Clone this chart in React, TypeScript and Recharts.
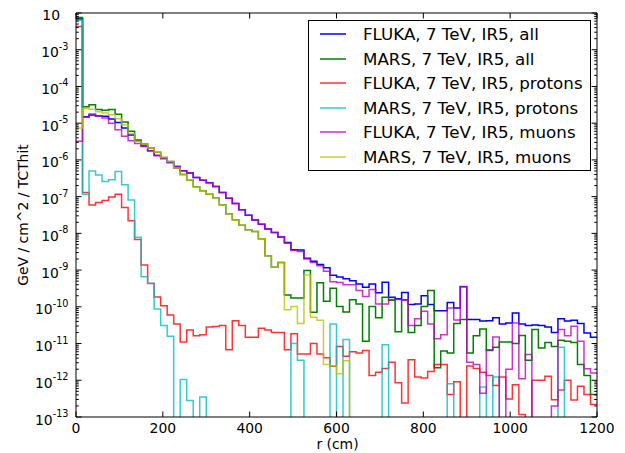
import React from 'react';
import { LineChart, Line, XAxis, YAxis } from 'recharts';

// histogram binning (cm)
const BIN_WIDTH = 15;
const N_BINS = 80;

const X_TICKS = [0, 200, 400, 600, 800, 1000, 1200];
const Y_DECADES = [-13, -12, -11, -10, -9, -8, -7, -6, -5, -4, -3, -2];

// GeV / cm^2 / TCThit per 15 cm bin, 0 = empty bin
const FLUKA_ALL = [
  6.9e-3, 1.5e-5, 1.66e-5, 1.58e-5, 1.55e-5, 1.29e-5, 1.05e-5, 7.4e-6, 4.8e-6, 3.3e-6,
  2.4e-6, 1.78e-6, 1.32e-6, 1.1e-6, 8.5e-7, 6.6e-7, 5.1e-7, 4.4e-7, 3.3e-7, 2.8e-7,
  2.4e-7, 1.9e-7, 1.29e-7, 9.1e-8, 6.5e-8, 4.4e-8, 3.1e-8, 2.3e-8, 1.78e-8, 1.32e-8,
  1.05e-8, 7.9e-9, 5.6e-9, 3.6e-9, 3.5e-9, 2.1e-9, 1.74e-9, 1.41e-9, 1.15e-9, 7.2e-10,
  6.5e-10, 5.8e-10, 5.1e-10, 4.2e-10, 3.4e-10, 4.2e-10, 2.4e-10, 4.7e-10, 1.82e-10, 1.66e-10,
  2.45e-10, 1.15e-10, 1.2e-10, 2.0e-10, 1.15e-10, 7.8e-11, 7.8e-11, 1.32e-10, 9.3e-11, 3.5e-10,
  4.5e-11, 4.5e-11, 4.1e-11, 4.2e-11, 5.0e-11, 3.4e-11, 3.6e-11, 6.8e-11, 3.4e-11, 3.1e-11,
  3.2e-11, 3.1e-11, 2.8e-11, 2.0e-11, 4.7e-11, 4.1e-11, 4.3e-11, 3.5e-11, 1.95e-11, 1.48e-11,
];

const MARS_ALL = [
  7.6e-3, 2.8e-5, 3.2e-5, 2.35e-5, 2.25e-5, 2.35e-5, 1.74e-5, 1.07e-5, 6.0e-6, 3.5e-6,
  2.7e-6, 2.1e-6, 1.62e-6, 1.17e-6, 9.1e-7, 6.0e-7, 4.0e-7, 2.8e-7, 1.86e-7, 1.45e-7,
  1.17e-7, 9.3e-8, 6.0e-8, 3.4e-8, 2.35e-8, 1.66e-8, 1.26e-8, 1.12e-8, 7.1e-9, 2.45e-9,
  1.2e-9, 1.62e-9, 2.1e-10, 1.74e-10, 1.74e-10, 9.8e-10, 7.1e-11, 4.5e-10, 1.41e-10, 3.2e-10,
  1.02e-10, 7.2e-11, 1.55e-10, 1.2e-10, 1.15e-11, 1.02e-10, 5.0e-11, 1.82e-10, 1.51e-10, 2.1e-11,
  1.55e-10, 2.0e-11, 3.1e-11, 1.02e-10, 2.8e-10, 2.2e-12, 6.3e-12, 5.5e-12, 3.5e-11, 4.5e-11,
  5.5e-12, 1.62e-11, 2.5e-11, 6.5e-12, 7.9e-12, 1.1e-11, 1.1e-11, 1.0e-11, 1.66e-11, 3.5e-12,
  2.4e-11, 7.6e-12, 1.07e-11, 8.3e-12, 1.23e-11, 1.15e-11, 1.07e-11, 2.7e-12, 1.35e-12, 4.1e-13,
];

const FLUKA_PROTONS = [
  4.3e-3, 1.29e-7, 5.9e-8, 6.9e-8, 7.9e-8, 9.8e-8, 1.17e-7, 5.1e-8, 2.2e-8, 6.8e-9,
  1.38e-9, 4.3e-10, 1.86e-10, 1.07e-10, 6.0e-11, 3.4e-11, 1.1e-11, 2.35e-11, 1.62e-11, 1.74e-11,
  2.8e-11, 2.9e-11, 3.1e-11, 6.8e-12, 4.2e-11, 3.1e-11, 1.48e-11, 1.48e-11, 2.6e-11, 2.35e-11,
  2.0e-11, 2.0e-11, 6.8e-12, 1.86e-11, 5.2e-12, 5.2e-12, 1.0e-11, 5.2e-12, 4.1e-12, 2.4e-12,
  8.3e-12, 4.5e-12, 6.0e-12, 5.5e-12, 6.5e-12, 1.35e-12, 1.66e-12, 2.1e-12, 3.1e-12, 8.5e-13,
  2.4e-13, 3.6e-12, 1.23e-12, 1.15e-12, 1.74e-12, 2.7e-12, 2.7e-12, 4.1e-13, 9.1e-13, 0,
  2.45e-12, 2.1e-12, 1.66e-12, 1.35e-12, 7.2e-13, 1.23e-12, 3.1e-13, 7.6e-13, 1.17e-13, 0,
  1.0e-12, 1.0e-12, 1.29e-12, 2.95e-13, 5.4e-13, 1.0e-12, 2.9e-13, 6.9e-13, 4.1e-13, 2.2e-13,
];

const MARS_PROTONS = [
  6.3e-3, 1.17e-7, 5.0e-7, 3.9e-7, 2.6e-7, 2.9e-7, 4.8e-7, 2.1e-7, 8.1e-8, 7.8e-9,
  6.6e-10, 4.4e-10, 8.7e-11, 3.1e-11, 1.58e-11, 0, 1.05e-12, 2.8e-13, 0, 3.5e-13,
  0, 0, 0, 0, 0, 0, 0, 0, 0, 0,
  0, 0, 0, 1.0e-11, 3.5e-12, 0, 0, 0, 0, 3.4e-11,
  0, 1.29e-11, 0, 0, 0, 0, 0, 9.3e-12, 0, 0,
  0, 0, 0, 0, 0, 0, 0, 8.1e-13, 0, 0,
  0, 0, 6.6e-13, 0, 1.23e-12, 0, 0, 0, 0, 0,
  0, 0, 0, 0, 7.9e-12, 0, 0, 0, 0, 0,
];

const FLUKA_MUONS = [
  3.2e-6, 1.45e-5, 1.78e-5, 1.58e-5, 1.38e-5, 1.0e-5, 6.6e-6, 4.4e-6, 3.3e-6, 2.8e-6,
  2.3e-6, 1.78e-6, 1.32e-6, 1.1e-6, 8.5e-7, 6.6e-7, 5.1e-7, 4.4e-7, 3.3e-7, 2.8e-7,
  2.4e-7, 1.9e-7, 1.29e-7, 9.1e-8, 6.5e-8, 4.4e-8, 3.1e-8, 2.3e-8, 1.78e-8, 1.32e-8,
  1.05e-8, 7.9e-9, 5.4e-9, 3.4e-9, 3.2e-9, 2.0e-9, 1.62e-9, 1.32e-9, 9.3e-10, 4.8e-10,
  4.6e-10, 4.0e-10, 4.0e-10, 2.8e-10, 1.9e-10, 2.95e-10, 1.2e-10, 1.2e-10, 1.58e-10, 1.58e-10,
  1.51e-10, 3.1e-11, 4.7e-11, 7.6e-11, 3.4e-11, 1.35e-11, 1.74e-11, 9.3e-11, 4.4e-11, 3.6e-10,
  3.1e-12, 2.7e-12, 4.4e-13, 6.8e-12, 1.51e-11, 0, 2.0e-12, 3.6e-11, 1.1e-12, 5.0e-12,
  0, 0, 0, 2.0e-13, 2.4e-11, 1.62e-11, 2.95e-11, 1.15e-11, 2.05e-12, 1.58e-12,
];

const MARS_MUONS = [
  7.4e-6, 2.5e-5, 2.4e-5, 2.05e-5, 1.9e-5, 1.7e-5, 1.32e-5, 8.9e-6, 5.2e-6, 3.2e-6,
  2.7e-6, 2.1e-6, 1.62e-6, 1.17e-6, 9.1e-7, 6.0e-7, 4.0e-7, 2.8e-7, 1.86e-7, 1.45e-7,
  1.17e-7, 9.3e-8, 6.0e-8, 3.4e-8, 2.35e-8, 1.66e-8, 1.26e-8, 1.12e-8, 7.1e-9, 2.45e-9,
  1.2e-9, 1.62e-9, 8.3e-11, 1.02e-10, 3.5e-11, 7.4e-10, 5.2e-11, 4.3e-11, 2.7e-12, 2.5e-12,
  1.51e-12, 3.4e-12, 0, 0, 0, 0, 0, 0, 0, 0,
  0, 0, 0, 0, 0, 0, 0, 0, 0, 0,
  0, 0, 0, 0, 0, 0, 0, 0, 0, 0,
  0, 0, 0, 0, 0, 0, 0, 0, 0, 0,
];

const SERIES = [
  { key: 'flukaAll', name: 'FLUKA, 7 TeV, IR5, all', color: '#0000ff', alpha: 1, values: FLUKA_ALL },
  { key: 'marsAll', name: 'MARS, 7 TeV, IR5, all', color: '#008000', alpha: 1, values: MARS_ALL },
  { key: 'flukaProtons', name: 'FLUKA, 7 TeV, IR5, protons', color: '#ff0000', alpha: 0.8, values: FLUKA_PROTONS },
  { key: 'marsProtons', name: 'MARS, 7 TeV, IR5, protons', color: '#00bfbf', alpha: 0.8, values: MARS_PROTONS },
  { key: 'flukaMuons', name: 'FLUKA, 7 TeV, IR5, muons', color: '#bf00bf', alpha: 0.8, values: FLUKA_MUONS },
  { key: 'marsMuons', name: 'MARS, 7 TeV, IR5, muons', color: '#bfbf00', alpha: 0.8, values: MARS_MUONS },
];

// empty bins can't sit on a log axis, push them under the floor (clipped)
const EMPTY = 1e-16;

// one row per bin edge, last edge repeats the last bin so the step reaches 1200
const data = Array.from({ length: N_BINS + 1 }, (_, i) => {
  const row: Record<string, number> = { r: i * BIN_WIDTH };
  SERIES.forEach((s) => {
    const v = s.values[Math.min(i, N_BINS - 1)];
    row[s.key] = v > 0 ? v : EMPTY;
  });
  return row;
});

const yTicks = Y_DECADES.flatMap((d) =>
  d === -2 ? [10 ** d] : [1, 2, 3, 4, 5, 6, 7, 8, 9].map((m) => m * 10 ** d)
);

const FONT = '"DejaVu Sans", Verdana, sans-serif';
const MAJOR = 5.5;
const MINOR = 2.8;

function decade(v: number) {
  const e = Math.log10(v);
  return Math.abs(e - Math.round(e)) < 1e-6 ? Math.round(e) : null;
}

function BottomTick({ x, y, payload }: any) {
  return (
    <g>
      <line x1={x} x2={x} y1={y} y2={y - MAJOR} stroke="#000" />
      <text x={x} y={y + 16} textAnchor="middle" fontSize={13.9} fontFamily={FONT}>
        {payload.value}
      </text>
    </g>
  );
}

function TopTick({ x, y }: any) {
  return <line x1={x} x2={x} y1={y} y2={y + MAJOR} stroke="#000" />;
}

function LeftTick({ x, y, payload }: any) {
  const d = decade(payload.value);
  let label = null;
  if (d === -2) {
    label = (
      <text x={x - 16} y={y + 7} textAnchor="end" fontSize={13.9} fontFamily={FONT}>10</text>
    );
  } else if (d !== null) {
    label = (
      <text x={x - 7.5} y={y + 7.5} textAnchor="end" fontSize={13.9} fontFamily={FONT}>
        10<tspan dy={-7.5} fontSize={9.7}>{d}</tspan>
      </text>
    );
  }
  return (
    <g>
      <line x1={x} x2={x + (d === null ? MINOR : MAJOR)} y1={y} y2={y} stroke="#000" />
      {label}
    </g>
  );
}

function RightTick({ x, y, payload }: any) {
  const d = decade(payload.value);
  return <line x1={x} x2={x - (d === null ? MINOR : MAJOR)} y1={y} y2={y} stroke="#000" />;
}

function XTitle({ viewBox }: any) {
  return (
    <text x={viewBox.x + viewBox.width / 2 + 1} y={viewBox.y + 32} textAnchor="middle" fontSize={13.9} fontFamily={FONT}>
      r (cm)
    </text>
  );
}

function YTitle({ viewBox }: any) {
  const cx = viewBox.x + 18;
  const cy = viewBox.y + viewBox.height / 2;
  return (
    <text x={cx} y={cy} transform={`rotate(-90 ${cx} ${cy})`} textAnchor="middle" fontSize={13.9} fontFamily={FONT}>
      GeV / cm^2 / TCThit
    </text>
  );
}

export default function App() {
  return (
    <div style={{ position: 'relative', width: 625, height: 453, margin: '-8px -8px 0 -8px', background: '#fff' }}>
      <LineChart width={625} height={453} data={data} margin={{ top: 12, right: 27, bottom: 0, left: 10 }}>
        <XAxis
          xAxisId="bottom"
          dataKey="r"
          type="number"
          domain={[0, 1200]}
          ticks={X_TICKS}
          interval={0}
          height={36}
          tickSize={0}
          tickMargin={0}
          tickLine={false}
          axisLine={{ stroke: '#000' }}
          tick={<BottomTick />}
          label={XTitle}
        />
        <XAxis
          xAxisId="top"
          orientation="top"
          dataKey="r"
          type="number"
          domain={[0, 1200]}
          ticks={X_TICKS}
          interval={0}
          height={1}
          tickSize={0}
          tickMargin={0}
          tickLine={false}
          axisLine={{ stroke: '#000' }}
          tick={<TopTick />}
        />
        <YAxis
          yAxisId="left"
          type="number"
          scale="log"
          domain={[1e-13, 1e-2]}
          allowDataOverflow
          ticks={yTicks}
          interval={0}
          width={66}
          tickSize={0}
          tickMargin={0}
          tickLine={false}
          axisLine={{ stroke: '#000' }}
          tick={<LeftTick />}
          label={YTitle}
        />
        <YAxis
          yAxisId="right"
          orientation="right"
          type="number"
          scale="log"
          domain={[1e-13, 1e-2]}
          allowDataOverflow
          ticks={yTicks}
          interval={0}
          width={1}
          tickSize={0}
          tickMargin={0}
          tickLine={false}
          axisLine={{ stroke: '#000' }}
          tick={<RightTick />}
        />
        {/* invisible copy bound to the top/right axes so they get drawn (frame + inner ticks) */}
        <Line
          xAxisId="top"
          yAxisId="right"
          type="stepAfter"
          dataKey="flukaAll"
          stroke="#000"
          strokeOpacity={0}
          dot={false}
          activeDot={false}
          isAnimationActive={false}
        />
        {SERIES.map((s) => (
          <Line
            key={s.key}
            xAxisId="bottom"
            yAxisId="left"
            type="stepAfter"
            dataKey={s.key}
            name={s.name}
            stroke={s.color}
            strokeOpacity={s.alpha}
            strokeWidth={1.5}
            dot={false}
            activeDot={false}
            isAnimationActive={false}
          />
        ))}
      </LineChart>
      <div
        style={{
          position: 'absolute',
          left: 308,
          top: 20,
          width: 283,
          height: 151,
          boxSizing: 'border-box',
          border: '1px solid #000',
          background: '#fff',
          fontFamily: FONT,
          fontSize: 16.7,
        }}
      >
        {SERIES.map((s, i) => (
          <div key={s.key} style={{ position: 'absolute', left: 0, right: 0, top: 3 + i * 24.5, height: 20, lineHeight: '20px' }}>
            <svg width={26} height={4} style={{ position: 'absolute', left: 11, top: 8 }}>
              <line x1={0} x2={26} y1={2} y2={2} stroke={s.color} strokeOpacity={s.alpha} strokeWidth={1.5} />
            </svg>
            <span style={{ position: 'absolute', left: 54, whiteSpace: 'nowrap' }}>{s.name}</span>
          </div>
        ))}
      </div>
    </div>
  );
}
